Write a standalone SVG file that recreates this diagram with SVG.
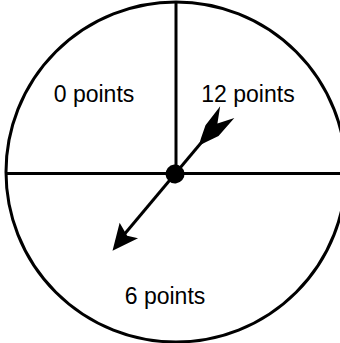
<svg xmlns="http://www.w3.org/2000/svg" width="340" height="343" viewBox="0 0 340 343">
<style>
.ln{stroke:#000;stroke-width:3;fill:none}
.lbl{font-family:"Liberation Sans",Arial,sans-serif;font-size:23px;fill:#000;text-anchor:middle}
</style>
<rect width="340" height="343" fill="#fff"/>
<g id="spinner">
<circle class="ln" cx="176" cy="172" r="170"/>
<line class="ln" x1="176" y1="1" x2="176" y2="174"/>
<line class="ln" x1="5" y1="173.5" x2="340" y2="173.5"/>
</g>
<g id="labels">
<text class="lbl" x="94" y="102">0 points</text>
<text class="lbl" x="248" y="102">12 points</text>
<text class="lbl" x="165" y="304">6 points</text>
</g>
<g id="arrow" transform="translate(175,174) rotate(-50)">
<line class="ln" x1="-80" y1="0" x2="42" y2="0"/>
<polygon points="-99,1.5 -73,-11 -78,3 -73,13" fill="#000"/>
<polygon points="81,-9 66,0 81,9.5 57,9 44,3 37,0 44,-3 57,-8" fill="#000"/>
<circle cx="0" cy="0" r="9.5" fill="#000"/>
</g>
</svg>
